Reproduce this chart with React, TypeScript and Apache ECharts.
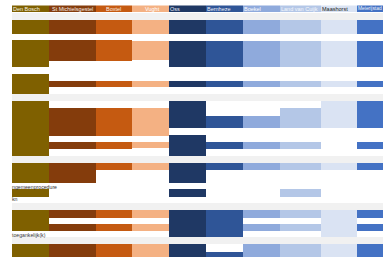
import React, { useEffect, useRef } from "react";
import * as echarts from "echarts";

// Column categories (municipalities) and colours
const columns = [
  "Den Bosch", "St Michielsgestel", "Boxtel", "Vught", "Oss",
  "Bernheze", "Boekel", "Land van Cuijk", "Maashorst", "Meierijstad",
];
const colColors = [
  "#7F6000", "#843C0C", "#C55A11", "#F4B183", "#1F3864",
  "#2F5597", "#8FAADC", "#B4C7E7", "#DAE3F3", "#4472C4",
];

// Segment ranges (start, end) per column, in row units from the top
const denBosch = [[8, 22], [28, 55], [62, 82], [89, 144], [151, 171], [177, 185], [198, 219], [232, 245]];
const stMichielsgestel = [[8, 22], [28, 49], [69, 75], [96, 124], [130, 137], [151, 171], [198, 206], [212, 219], [232, 245]];
const boxtel = [[8, 22], [28, 49], [69, 75], [96, 124], [130, 137], [151, 158], [198, 206], [212, 219], [232, 245]];
const vught = [[8, 22], [29, 48], [69, 75], [96, 124], [130, 136], [151, 158], [198, 206], [212, 219], [232, 245]];
const oss = [[8, 22], [29, 55], [69, 75], [89, 116], [123, 144], [151, 171], [177, 185], [198, 225], [232, 245]];
const bernheze = [[8, 22], [29, 55], [69, 75], [104, 116], [130, 137], [151, 158], [198, 225], [240, 245]];
const boekel = [[8, 22], [29, 55], [69, 75], [104, 116], [130, 137], [151, 158], [198, 206], [212, 219], [232, 245]];
const landVanCuijk = [[8, 22], [29, 55], [69, 75], [96, 116], [130, 137], [151, 158], [177, 185], [198, 206], [212, 219], [232, 245]];
const maashorst = [[8, 22], [29, 55], [69, 75], [89, 116], [151, 158], [198, 225], [232, 245]];
const meierijstad = [[8, 22], [29, 55], [69, 75], [89, 116], [130, 137], [151, 158], [198, 206], [212, 219], [232, 245]];

const columnSegments = [
  denBosch, stMichielsgestel, boxtel, vught, oss,
  bernheze, boekel, landVanCuijk, maashorst, meierijstad,
];

// Grey separator bands (start, end)
const bands = [[1, 8], [82, 89], [144, 151], [191, 198], [225, 232]];

// Row labels that spill over from the left
const rowLabels = ["ngemeenprocedure", "kn", "toegankelijk(k)"];
const rowLabelPos = [174.8, 187, 222.6];

// Layout
const colWidths = [37, 47, 36, 37, 37, 37, 37, 41, 36, 26];
const headerTextOffset = [1, 3, 10, 13, 1, 1, 1, 1, 1, 1];
const headerFontSize = [5.5, 5.5, 5.5, 5.5, 5.5, 5.5, 5.5, 5.5, 5.5, 4.9];
const headerTextColor = ["#f4f0e0", "#f6ece6", "#fbeee4", "#fff", "#e8ecf4", "#eef2fa", "#fff", "#f4f7fc", "#222", "#f2f6fc"];
const colEdges: number[] = [0];
colWidths.forEach((w, i) => colEdges.push(colEdges[i] + w));
const totalWidth = colEdges[colEdges.length - 1];
const FONT = "Liberation Sans, Arial, sans-serif";

export default function App() {
  const ref = useRef<HTMLDivElement>(null);
  useEffect(() => {
    if (!ref.current) return;
    const chart = echarts.init(ref.current, undefined, { renderer: "svg" });

    const segData: number[][] = [];
    columnSegments.forEach((segs, ci) => segs.forEach(([s, e]) => segData.push([ci, s, e])));

    const option: any = {
      animation: false,
      grid: { left: 12, right: 0, top: 0, bottom: 0 },
      xAxis: { type: "value", min: 0, max: totalWidth, show: false },
      yAxis: { type: "value", min: -12, max: 245, inverse: true, show: false },
      series: [
        {
          type: "custom",
          name: "bands",
          z: 1,
          data: bands,
          renderItem: (params: any, api: any) => {
            const p0 = api.coord([0, api.value(0)]);
            const p1 = api.coord([totalWidth, api.value(1)]);
            return { type: "rect", shape: { x: p0[0], y: p0[1], width: p1[0] - p0[0], height: p1[1] - p0[1] }, style: { fill: "#F1F1F1" } };
          },
        },
        {
          type: "custom",
          name: "segments",
          z: 2,
          data: segData,
          renderItem: (params: any, api: any) => {
            const ci = api.value(0);
            const p0 = api.coord([colEdges[ci], api.value(1)]);
            const p1 = api.coord([colEdges[ci + 1], api.value(2)]);
            return {
              type: "rect",
              shape: { x: p0[0], y: p0[1], width: p1[0] - p0[0], height: p1[1] - p0[1] },
              style: { fill: colColors[ci] },
            };
          },
        },
        {
          type: "custom",
          name: "header",
          z: 3,
          clip: false,
          data: columns.map((c, i) => [i]),
          renderItem: (params: any, api: any) => {
            const ci = api.value(0);
            const p0 = api.coord([colEdges[ci], -6.5]);
            const p1 = api.coord([colEdges[ci + 1], 0]);
            return {
              type: "group",
              children: [
                { type: "rect", shape: { x: p0[0], y: p0[1], width: p1[0] - p0[0], height: p1[1] - p0[1] }, style: { fill: colColors[ci] } },
                {
                  type: "text",
                  style: {
                    text: columns[ci], x: p0[0] + headerTextOffset[ci], y: (p0[1] + p1[1]) / 2,
                    fill: headerTextColor[ci], fontSize: headerFontSize[ci], fontFamily: FONT, verticalAlign: "middle", align: "left",
                  },
                },
              ],
            };
          },
        },
        {
          type: "custom",
          name: "rowLabels",
          z: 4,
          data: rowLabels.map((t, i) => [rowLabelPos[i], i]),
          renderItem: (params: any, api: any) => {
            const i = api.value(1);
            const p = api.coord([0, api.value(0)]);
            return {
              type: "text",
              style: { text: rowLabels[i], x: p[0], y: p[1], fill: "#333", fontSize: 5.2, fontFamily: FONT, verticalAlign: "middle", align: "left" },
            };
          },
        },
      ],
    };
    chart.setOption(option);
    return () => chart.dispose();
  }, []);
  return <div ref={ref} style={{ position: "fixed", left: 0, top: 0, width: 383, height: 257, background: "#fff" }} />;
}
